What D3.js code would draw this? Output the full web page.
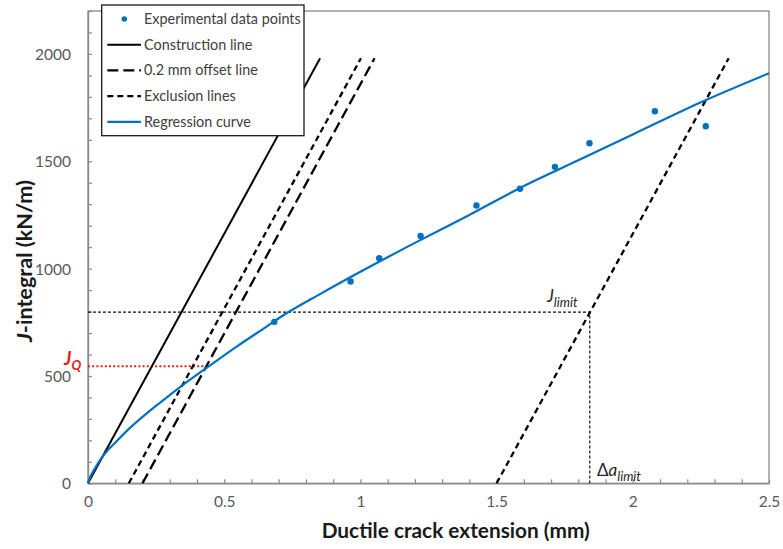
<!DOCTYPE html>
<html>
<head>
<meta charset="utf-8">
<script src="https://cdn.jsdelivr.net/npm/d3@7"></script>
<style>
  body { margin: 0; background: #fff; }
  text { font-family: Lato, "Open Sans", sans-serif; }
</style>
</head>
<body>
<svg id="chart" width="783" height="549"></svg>
<script>
// Experimental points (crack extension in mm, J in kN/m)
const dataA = [0.684, 0.964, 1.069, 1.221, 1.426, 1.586, 1.714, 1.841, 2.081, 2.268];
const dataJ = [752, 940, 1048, 1152, 1294, 1372, 1474, 1584, 1733, 1663];

// Regression curve
const curveA = [0, 0.01, 0.02, 0.044, 0.07, 0.105, 0.154, 0.216, 0.265, 0.35, 0.44, 0.547, 0.632, 0.73, 0.85, 1.0, 1.2, 1.4, 1.6, 1.8, 2.0, 2.25, 2.5];
const curveJ = [0, 35, 58, 108, 150, 196, 258, 326, 376, 460, 542, 638, 710, 793, 880, 985, 1120, 1250, 1385, 1505, 1625, 1775, 1910];

// straight lines: [start, end] as [a, J]
const constructionLine = [[0, 0], [0.852, 1980]];
const offsetLine = [[0.2, 0], [1.052, 1980]];
const exclusionLines = [[[0.15, 0], [1.002, 1980]], [[1.5, 0], [2.352, 1980]]];

const jLimit = 797, aLimit = 1.842;
const jQ = 545, aQ = 0.425;

const xMajor = [0, 0.5, 1, 1.5, 2, 2.5];
const yMajor = [0, 500, 1000, 1500, 2000];

const legendLabels = ["Experimental data points", "Construction line", "0.2 mm offset line", "Exclusion lines", "Regression curve"];

const blue = "#0070c0";
const svg = d3.select("#chart");

const x = d3.scaleLinear().domain([0, 2.5]).range([88, 769]);
const y = d3.scaleLinear().domain([0, 2200]).range([483.3, 11]);

// frame
svg.append("rect")
  .attr("x", x(0)).attr("y", y(2200))
  .attr("width", x(2.5) - x(0)).attr("height", y(0) - y(2200))
  .attr("fill", "none").attr("stroke", "#898989").attr("stroke-width", 1.3);

// axes with minor ticks pointing inward
const xTicks = d3.range(0, 26).map(i => i / 10);
const yTicks = d3.range(0, 23).map(i => i * 100);

const xAxis = svg.append("g")
  .attr("transform", `translate(0,${y(0)})`)
  .call(d3.axisBottom(x).tickValues(xTicks).tickSizeInner(-4).tickSizeOuter(0).tickPadding(13)
    .tickFormat(d => xMajor.some(m => Math.abs(m - d) < 1e-6) ? d3.format("~g")(d) : ""));

const yAxis = svg.append("g")
  .attr("transform", `translate(${x(0)},0)`)
  .call(d3.axisLeft(y).tickValues(yTicks).tickSizeInner(-4).tickSizeOuter(0).tickPadding(17)
    .tickFormat(d => yMajor.includes(d) ? d : ""));

[xAxis, yAxis].forEach(g => {
  g.select(".domain").attr("stroke", "#898989").attr("stroke-width", 1.3);
  g.selectAll(".tick line").attr("stroke", "#898989").attr("stroke-width", 1.2);
  g.selectAll(".tick text").attr("fill", "#595959").style("font-size", "15.5px");
});
yAxis.selectAll(".tick text").attr("dy", "0.35em");

// axis titles
svg.append("text")
  .attr("x", 321.7).attr("y", 537.5)
  .attr("textLength", 268).attr("lengthAdjust", "spacingAndGlyphs")
  .style("font-size", "20px").style("font-weight", "bold").attr("fill", "#1a1a1a")
  .text("Ductile crack extension (mm)");

const yTitle = svg.append("text")
  .attr("transform", "translate(32,261) rotate(-90)")
  .attr("text-anchor", "middle")
  .attr("textLength", 162).attr("lengthAdjust", "spacingAndGlyphs")
  .style("font-size", "20px").style("font-weight", "bold").attr("fill", "#1a1a1a");
yTitle.append("tspan").style("font-style", "italic").text("J");
yTitle.append("tspan").text("-integral (kN/m)");

const plot = svg.append("g");
const line = d3.line().x(d => x(d[0])).y(d => y(d[1]));

// J_limit and Δa_limit guides
plot.append("path")
  .attr("d", line([[0, jLimit], [aLimit, jLimit], [aLimit, 0]]))
  .attr("fill", "none").attr("stroke", "#111").attr("stroke-width", 1.2)
  .attr("stroke-dasharray", "3,2");

// J_Q guide
plot.append("path")
  .attr("d", line([[0, jQ], [aQ, jQ]]))
  .attr("fill", "none").attr("stroke", "#e0201c").attr("stroke-width", 2)
  .attr("stroke-dasharray", "2,2.2");

// construction, offset and exclusion lines
plot.append("path").attr("d", line(constructionLine))
  .attr("fill", "none").attr("stroke", "#000").attr("stroke-width", 2);
plot.append("path").attr("d", line(offsetLine))
  .attr("fill", "none").attr("stroke", "#000").attr("stroke-width", 2.3)
  .attr("stroke-dasharray", "11,5");
plot.selectAll(".excl").data(exclusionLines).enter().append("path")
  .attr("d", d => line(d))
  .attr("fill", "none").attr("stroke", "#000").attr("stroke-width", 2.3)
  .attr("stroke-dasharray", "6,4");

// regression curve
plot.append("path")
  .datum(d3.zip(curveA, curveJ))
  .attr("d", d3.line().x(d => x(d[0])).y(d => y(d[1])).curve(d3.curveMonotoneX))
  .attr("fill", "none").attr("stroke", blue).attr("stroke-width", 2.2);

// experimental points
plot.selectAll(".pt").data(d3.zip(dataA, dataJ)).enter().append("circle")
  .attr("cx", d => x(d[0])).attr("cy", d => y(d[1]))
  .attr("r", 3.2).attr("fill", blue);

// annotations
function subLabel(px, py, parts, subText, subSize, color, weight) {
  const t = svg.append("text").attr("x", px).attr("y", py).attr("fill", color)
    .style("font-weight", weight);
  parts.forEach(p => t.append("tspan").style("font-size", p.size + "px")
    .style("font-style", p.italic ? "italic" : "normal").text(p.text));
  t.append("tspan").attr("dy", subSize * 0.35).style("font-size", subSize + "px")
    .style("font-style", "italic").text(subText);
  return t;
}
subLabel(547, 302, [{ text: "J", size: 17, italic: true }], "limit", 13, "#262626", "normal");
subLabel(597, 476, [{ text: "\u0394", size: 17, italic: false }, { text: "a", size: 17, italic: true }], "limit", 13, "#262626", "normal");
subLabel(64, 365, [{ text: "J", size: 18, italic: true }], "Q", 13, "#e0201c", "bold");

// legend
const lg = svg.append("g");
lg.append("rect").attr("x", 101.7).attr("y", 5).attr("width", 202.3).attr("height", 130.7)
  .attr("fill", "#fff").attr("stroke", "#1a1a1a").attr("stroke-width", 1.3);
const rowY = d3.range(legendLabels.length).map(i => 19 + i * 25.7);
lg.selectAll(".lt").data(legendLabels).enter().append("text")
  .attr("x", 144).attr("y", (d, i) => rowY[i]).attr("dy", "0.35em")
  .attr("fill", "#404040").style("font-size", "14.4px")
  .text(d => d);
lg.append("circle").attr("cx", 124.3).attr("cy", rowY[0]).attr("r", 2.8).attr("fill", blue);
const sym = [
  { row: 1, dash: null, color: "#000", w: 2 },
  { row: 2, dash: "11,5", color: "#000", w: 2.3 },
  { row: 3, dash: "6,4", color: "#000", w: 2.3 },
  { row: 4, dash: null, color: blue, w: 2.2 }
];
lg.selectAll(".ls").data(sym).enter().append("line")
  .attr("x1", 107.3).attr("x2", 141).attr("y1", d => rowY[d.row]).attr("y2", d => rowY[d.row])
  .attr("stroke", d => d.color).attr("stroke-width", d => d.w)
  .attr("stroke-dasharray", d => d.dash);
</script>
</body>
</html>
